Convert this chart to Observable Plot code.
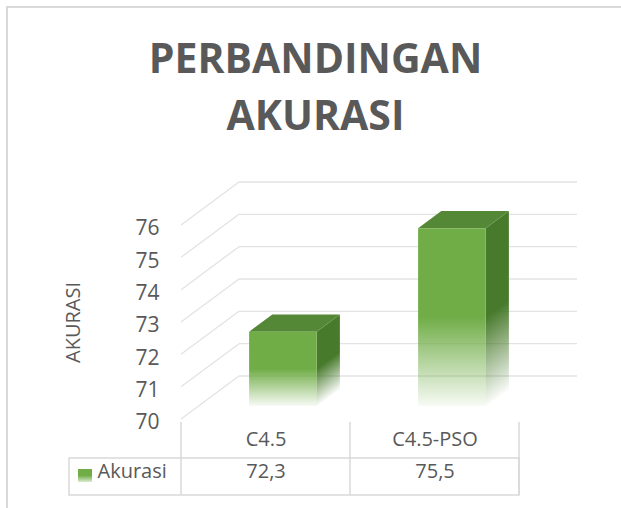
<!DOCTYPE html>
<html><head><meta charset="utf-8">
<script src="https://cdn.jsdelivr.net/npm/d3@7"></script>
<script src="https://cdn.jsdelivr.net/npm/@observablehq/plot@0.6"></script>
<style>
html,body{margin:0;padding:0;background:#fff;overflow:hidden;}
#wrap{position:relative;width:621px;height:508px;overflow:hidden;font-family:"Open Sans",sans-serif;color:#595959;}
#frame{position:absolute;left:5.5px;top:5.5px;width:800px;height:800px;border-left:2px solid #d9d9d9;border-top:2px solid #d9d9d9;}
.t{position:absolute;left:0;width:631px;text-align:center;font-weight:700;font-size:41px;line-height:57px;white-space:nowrap;}
#chart{position:absolute;left:0;top:160px;}
</style></head><body>
<div id="wrap"><div id="frame"></div>
<div class="t" id="t1" style="top:28.6px"></div>
<div class="t" id="t2" style="top:85.6px"></div>
<div id="chart"></div></div>
<script>
const titleLines = ["PERBANDINGAN", "AKURASI"];
const categories = ["C4.5", "C4.5-PSO"];
const values = [72.3, 75.5];
const valueLabels = ["72,3", "75,5"];
const yTicks = [70, 71, 72, 73, 74, 75, 76];
const seriesName = "Akurasi";
const yLabel = "AKURASI";

document.getElementById("t1").textContent = titleLines[0];
document.getElementById("t2").textContent = titleLines[1];

const GREEN = "#70ad47", TOP = "#558836", SIDE = "#487a2c", GRID = "#e3e3e3", LINE = "#d9d9d9", TXT = "#595959";
const DX = 58, DY = -43;            // 3-D depth projection (pixels)
const T1 = 0.3, T2 = 0.7, BARW = 0.4;

function bwOf(s) { return typeof s.bandwidth === "function" ? s.bandwidth() : s.bandwidth; }

function gridMark(index, scales) {
  const X = scales.x, Y = scales.y, bw = bwOf(X);
  const xL = X(categories[0]), xR = X(categories[categories.length - 1]) + bw;
  const g = d3.create("svg:g").attr("stroke", GRID).attr("stroke-width", 1.3).attr("fill", "none");
  for (const v of yTicks) {
    g.append("line").attr("x1", xL + DX).attr("x2", xR + DX).attr("y1", Y(v) + DY).attr("y2", Y(v) + DY);
    g.append("line").attr("x1", xL).attr("x2", xL + DX).attr("y1", Y(v)).attr("y2", Y(v) + DY);
  }
  return g.node();
}

function barsMark(index, scales) {
  const X = scales.x, Y = scales.y, bw = bwOf(X);
  const y0 = Y(yTicks[0]);
  const g = d3.create("svg:g");
  const defs = g.append("defs");
  const fg = defs.append("linearGradient").attr("id", "gFront").attr("x1", 0).attr("y1", 0).attr("x2", 0).attr("y2", 1);
  fg.append("stop").attr("offset", "0").attr("stop-color", GREEN);
  fg.append("stop").attr("offset", "0.5").attr("stop-color", GREEN);
  fg.append("stop").attr("offset", "1").attr("stop-color", GREEN).attr("stop-opacity", 0.05);
  const ox = (T2 - T1) * DX, oy = (T2 - T1) * DY;
  const len = Math.hypot(ox, oy), nx = -oy / len, ny = ox / len;
  categories.forEach((c, i) => {
    const v = values[i];
    const xa = X(c) + bw * (1 - BARW) / 2 + T1 * DX, xb = xa + bw * BARW;
    const yt = Y(v) + T1 * DY, yb = y0 + T1 * DY;
    const ax = xb, ay = yt + 0.5 * (yb - yt);
    const dot = (yb - ay) * ny;
    const sg = defs.append("linearGradient").attr("id", "gSide" + i).attr("gradientUnits", "userSpaceOnUse")
      .attr("x1", ax).attr("y1", ay).attr("x2", ax + dot * nx).attr("y2", ay + dot * ny);
    sg.append("stop").attr("offset", "0").attr("stop-color", SIDE);
    sg.append("stop").attr("offset", "1").attr("stop-color", SIDE).attr("stop-opacity", 0.03);
    g.append("path").attr("fill", `url(#gSide${i})`)
      .attr("d", `M${xb},${yt}L${xb + ox},${yt + oy}L${xb + ox},${yb + oy}L${xb},${yb}Z`);
    g.append("path").attr("fill", TOP)
      .attr("d", `M${xa},${yt}L${xb},${yt}L${xb + ox},${yt + oy}L${xa + ox},${yt + oy}Z`);
    g.append("rect").attr("x", xa).attr("y", yt).attr("width", xb - xa).attr("height", yb - yt).attr("fill", "url(#gFront)");
  });
  return g.node();
}

function tableMark(index, scales) {
  const X = scales.x, Y = scales.y, bw = bwOf(X);
  const y0 = Y(yTicks[0]);
  const xL = X(categories[0]), xR = X(categories[categories.length - 1]) + bw;
  const g = d3.create("svg:g");
  const defs = g.append("defs");
  const lg = defs.append("linearGradient").attr("id", "gSw").attr("x1", 0).attr("y1", 0).attr("x2", 0).attr("y2", 1);
  lg.append("stop").attr("offset", "0").attr("stop-color", GREEN);
  lg.append("stop").attr("offset", "0.5").attr("stop-color", GREEN);
  lg.append("stop").attr("offset", "1").attr("stop-color", GREEN).attr("stop-opacity", 0.25);
  const lines = g.append("g").attr("stroke", LINE).attr("stroke-width", 1.5).attr("fill", "none");
  const rowTop = y0 + 39, rowBot = y0 + 76, left = xL - 112;
  lines.append("rect").attr("x", left).attr("y", rowTop).attr("width", xR - left).attr("height", rowBot - rowTop);
  const xs = categories.map(c => X(c)).concat([xR]);
  for (const x of xs) lines.append("line").attr("x1", x).attr("x2", x).attr("y1", y0 + 3).attr("y2", rowBot);
  g.append("rect").attr("x", xL - 103).attr("y", y0 + 50).attr("width", 14).attr("height", 13).attr("fill", "url(#gSw)");
  return g.node();
}

const plot = Plot.plot({
  width: 621, height: 348,
  marginLeft: 181, marginRight: 102, marginTop: 65, marginBottom: 89,
  x: {type: "band", domain: categories, padding: 0, axis: null},
  y: {domain: [70, 76], axis: null},
  style: {fontFamily: "'Open Sans', sans-serif", color: TXT, background: "transparent", overflow: "visible"},
  marks: [
    gridMark,
    barsMark,
    tableMark,
    Plot.text(yTicks, {y: d => d, text: d => String(d), frameAnchor: "left", textAnchor: "end", dx: -22, dy: 3, fontSize: 21, fill: TXT}),
    Plot.text([yLabel], {text: d => d, frameAnchor: "left", textAnchor: "middle", rotate: -90, dx: -108, fontSize: 20, fill: TXT}),
    Plot.text(categories, {x: d => d, text: d => d, frameAnchor: "bottom", dy: 26, fontSize: 20, fill: TXT}),
    Plot.text(categories, {x: d => d, text: (d, i) => valueLabels[i], frameAnchor: "bottom", dy: 58, fontSize: 20, fill: TXT}),
    Plot.text([seriesName], {text: d => d, frameAnchor: "bottom-left", textAnchor: "start", dx: -84, dy: 58, fontSize: 20, fill: TXT})
  ]
});
document.getElementById("chart").appendChild(plot);
</script>
</body></html>
